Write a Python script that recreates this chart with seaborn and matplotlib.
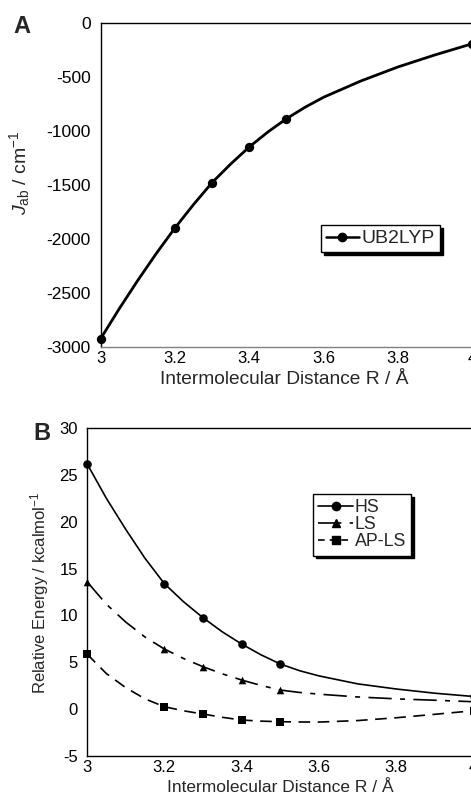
import matplotlib
matplotlib.use("Agg")
import matplotlib.pyplot as plt
import seaborn as sns
from matplotlib.lines import Line2D

# ---------------- data ----------------
# Panel A: J_ab (cm^-1) vs R (Å)
a_point_R = [3.0, 3.2, 3.3, 3.4, 3.5, 4.0]
a_point_J = [-2925, -1900, -1480, -1150, -889, -195]
a_curve_R = [3.0, 3.05, 3.1, 3.15, 3.2, 3.25, 3.3, 3.35, 3.4, 3.45, 3.5, 3.55, 3.6, 3.7, 3.8, 3.9, 4.0]
a_curve_J = [-2925, -2648, -2385, -2135, -1900, -1683, -1480, -1308, -1150, -1012, -889, -783, -690, -540, -410, -298, -195]

# Panel B: relative energies (kcal/mol) vs R (Å)
b_point_R = [3.0, 3.2, 3.3, 3.4, 3.5, 4.0]
hs_point = [26.2, 13.4, 9.76, 6.95, 4.82, 1.35]
ls_point = [13.6, 6.42, 4.53, 3.11, 2.04, 0.79]
apls_point = [5.88, 0.26, -0.52, -1.16, -1.34, -0.17]

b_curve_R = [3.0, 3.05, 3.1, 3.15, 3.2, 3.25, 3.3, 3.35, 3.4, 3.45, 3.5, 3.55, 3.6, 3.7, 3.8, 3.9, 4.0]
hs_curve = [26.2, 22.5, 19.2, 16.1, 13.4, 11.45, 9.76, 8.25, 6.95, 5.8, 4.82, 4.1, 3.55, 2.7, 2.15, 1.7, 1.35]
ls_curve = [13.6, 11.2, 9.3, 7.7, 6.42, 5.4, 4.53, 3.77, 3.11, 2.53, 2.04, 1.78, 1.6, 1.3, 1.1, 0.95, 0.79]
apls_curve = [5.88, 3.8, 2.3, 1.1, 0.26, -0.18, -0.52, -0.87, -1.16, -1.28, -1.34, -1.37, -1.38, -1.22, -0.92, -0.55, -0.17]

x_ticks = [3, 3.2, 3.4, 3.6, 3.8, 4]
x_ticklabels = ["3", "3.2", "3.4", "3.6", "3.8", "4"]
a_yticks = [0, -500, -1000, -1500, -2000, -2500, -3000]
b_yticks = [30, 25, 20, 15, 10, 5, 0, -5]

xlabel = "Intermolecular Distance R / Å"
a_ylabel = r"$\mathit{J}_{\mathregular{ab}}$ / cm$^{-1}$"
b_ylabel = r"Relative Energy / kcalmol$^{-1}$"

# ---------------- style ----------------
sns.set_style("white")
plt.rcParams["font.family"] = ["Liberation Sans", "DejaVu Sans"]
plt.rcParams["mathtext.fontset"] = "custom"
plt.rcParams["mathtext.rm"] = "Liberation Sans"
plt.rcParams["mathtext.it"] = "Liberation Sans:italic"
plt.rcParams["mathtext.bf"] = "Liberation Sans:bold"

fig = plt.figure(figsize=(4.71, 8.02), dpi=100)
W, H = 471.0, 802.0

def axes_px(left, right, top, bottom):
    return fig.add_axes([left / W, 1 - bottom / H, (right - left) / W, (bottom - top) / H])

axA = axes_px(100.7, 472.2, 22.7, 346.7)
axB = axes_px(87.0, 473.5, 428.0, 756.0)

def style_axes(ax, yticks, ylim, ypad, ysize):
    ax.set_xlim(3, 4)
    ax.set_ylim(*ylim)
    ax.set_xticks(x_ticks)
    ax.set_xticklabels(x_ticklabels)
    ax.set_yticks(yticks)
    ax.set_yticklabels([f"{v:g}" for v in yticks])
    ax.tick_params(axis="both", direction="in", length=5, width=1, color="k",
                   labelcolor="k")
    ax.tick_params(axis="y", pad=ypad, labelsize=ysize)
    ax.tick_params(axis="x", pad=3, labelsize=12)
    for s in ["left", "top", "bottom", "right"]:
        ax.spines[s].set_visible(True)
        ax.spines[s].set_color("k")
        ax.spines[s].set_linewidth(1)
    ax.grid(False)

# ---------------- Panel A ----------------
sns.lineplot(x=a_curve_R, y=a_curve_J, ax=axA, color="k", lw=2.0, zorder=2)
axA.lines[-1].set_solid_joinstyle("round")
sns.scatterplot(x=a_point_R, y=a_point_J, ax=axA, color="k", marker="o", s=45,
                edgecolor="k", linewidth=0, zorder=3, legend=False, clip_on=False)
style_axes(axA, a_yticks, (-3000, 0), 7, 12.5)
axA.spines["bottom"].set_color("#808080")
axA.set_xlabel(xlabel, fontsize=13.8)
axA.set_ylabel(a_ylabel, fontsize=14)
axA.xaxis.set_label_coords(0.493, -0.075)
axA.yaxis.set_label_coords(-0.184, 0.536)

hA = [Line2D([], [], color="k", lw=1.8, marker="o", markersize=6)]
legA = axA.legend(hA, ["UB2LYP"], loc="upper left", bbox_to_anchor=(0.593, 0.376),
                  borderaxespad=0, frameon=True, fancybox=False, edgecolor="k",
                  framealpha=1, shadow={"color": "k", "alpha": 1}, fontsize=14,
                  handlelength=1.7, handletextpad=0.15, borderpad=0.25)
legA.get_frame().set_linewidth(1)

# ---------------- Panel B ----------------
ls_dash = (14, 5, 3, 5)
apls_dash = (7, 4.5)
sns.lineplot(x=b_curve_R, y=hs_curve, ax=axB, color="k", lw=1.2, zorder=2)
sns.lineplot(x=b_curve_R, y=ls_curve, ax=axB, color="k", lw=1.2, zorder=2)
axB.lines[-1].set_dashes(ls_dash)
sns.lineplot(x=b_curve_R, y=apls_curve, ax=axB, color="k", lw=1.2, zorder=2)
axB.lines[-1].set_dashes(apls_dash)

sns.scatterplot(x=b_point_R, y=hs_point, ax=axB, color="k", marker="o", s=38,
                linewidth=0, zorder=3, legend=False, clip_on=False)
sns.scatterplot(x=b_point_R, y=ls_point, ax=axB, color="k", marker="^", s=30,
                linewidth=0, zorder=3, legend=False, clip_on=False)
sns.scatterplot(x=b_point_R, y=apls_point, ax=axB, color="k", marker="s", s=30,
                linewidth=0, zorder=3, legend=False, clip_on=False)
style_axes(axB, b_yticks, (-5, 30), 6.5, 12)
axB.set_xlabel(xlabel, fontsize=12.5)
axB.set_ylabel(b_ylabel, fontsize=12)
axB.xaxis.set_label_coords(0.4994, -0.072)
axB.yaxis.set_label_coords(-0.0925, 0.497)

hB = [Line2D([], [], color="k", lw=1.2, marker="o", markersize=6),
      Line2D([], [], color="k", lw=1.2, marker="^", markersize=5.5, dashes=ls_dash),
      Line2D([], [], color="k", lw=1.2, marker="s", markersize=5.5, dashes=(4, 3))]
legB = axB.legend(hB, ["HS", "LS", "AP-LS"], loc="upper left", bbox_to_anchor=(0.585, 0.799),
                  borderaxespad=0, frameon=True, fancybox=False, edgecolor="k",
                  framealpha=1, shadow={"color": "k", "alpha": 1}, fontsize=12.8,
                  handlelength=1.95, handletextpad=0.08, borderpad=0.3, labelspacing=0.0)
legB.get_frame().set_linewidth(1)

# panel letters
fig.text(13 / W, 1 - 33 / H, "A", fontsize=17, fontweight="bold", ha="left", va="baseline")
fig.text(33 / W, 1 - 440 / H, "B", fontsize=17, fontweight="bold", ha="left", va="baseline")

fig.savefig("out.png", dpi=100)
